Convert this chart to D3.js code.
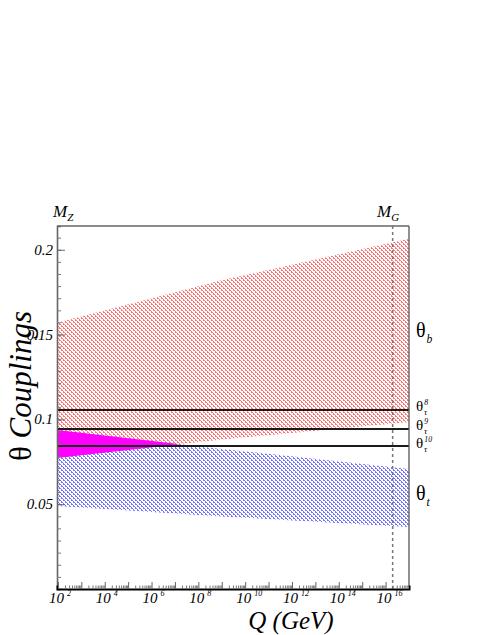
<!DOCTYPE html>
<html>
<head>
<meta charset="utf-8">
<script src="https://cdn.jsdelivr.net/npm/d3@7"></script>
<style>
  html, body { margin: 0; padding: 0; background: #fff; }
  svg { display: block; }
  text { font-family: "Liberation Serif", "DejaVu Serif", serif; }
</style>
</head>
<body>
<svg id="chart" width="491" height="635"></svg>
<script>
// ---------- data ----------
const scaleQ = [91.19, 1e9, 1e17];                 // Q (GeV) sample points
const thetaBUpper = [0.157, 0.182, 0.2065];         // theta_b band, upper edge
const thetaBLower = [0.0773, 0.0882, 0.0985];       // theta_b band, lower edge
const thetaTUpper = [0.0938, 0.0826, 0.0708];       // theta_t band, upper edge
const thetaTLower = [0.049, 0.0428, 0.0366];        // theta_t band, lower edge
const thetaTau = [0.1055, 0.0943, 0.0843];          // theta_tau^8, ^9, ^10
const thetaTauLabels = ["8", "9", "10"];
const yTickValues = [0.05, 0.1, 0.15, 0.2];
const yTickLabels = ["0.05", "0.1", "0.15", "0.2"];
const xLabelExponents = [2, 4, 6, 8, 10, 12, 14, 16];
const qMin = 91.19, qMax = 1e17, qMG = 2e16;
const yMin = 0, yMax = 0.214;

// ---------- layout ----------
const L = 57, R = 409, T = 226, B = 589;
const svg = d3.select("#chart");
const x = d3.scaleLog().domain([qMin, qMax]).range([L, R]);
const y = d3.scaleLinear().domain([yMin, yMax]).range([B, T]);

// hatch patterns
const defs = svg.append("defs");
function hatch(id, color) {
  const p = defs.append("pattern").attr("id", id)
    .attr("patternUnits", "userSpaceOnUse").attr("x", 0).attr("y", 0)
    .attr("width", 4).attr("height", 4);
  const pix = [[0,0],[1,1],[2,2],[3,3],[3,0],[1,2]];
  p.selectAll("rect").data(pix).join("rect")
    .attr("x", d => d[0]).attr("y", d => d[1]).attr("width", 1).attr("height", 1)
    .attr("fill", color).attr("shape-rendering", "crispEdges");
}
hatch("hatchRed", "#ff7474");
hatch("hatchBlue", "#7474ff");

const redData = scaleQ.map((q, i) => ({q, lo: thetaBLower[i], hi: thetaBUpper[i]}));
const blueData = scaleQ.map((q, i) => ({q, lo: thetaTLower[i], hi: thetaTUpper[i]}));
const area = d3.area().x(d => x(d.q)).y0(d => y(d.lo)).y1(d => y(d.hi));

defs.append("clipPath").attr("id", "clipRed").append("path").attr("d", area(redData));
defs.append("clipPath").attr("id", "clipFrame").append("rect")
  .attr("x", L).attr("y", T).attr("width", R - L).attr("height", B - T);

const plot = svg.append("g").attr("clip-path", "url(#clipFrame)");
plot.append("path").attr("d", area(redData)).attr("fill", "url(#hatchRed)");
plot.append("path").attr("d", area(blueData)).attr("fill", "url(#hatchBlue)");
// overlap of the two bands
plot.append("path").attr("d", area(blueData)).attr("fill", "#ff00ff")
  .attr("clip-path", "url(#clipRed)");

// theta_tau lines
plot.selectAll("line.tau").data(thetaTau).join("line").attr("class", "tau")
  .attr("x1", x(qMin)).attr("x2", x(qMax))
  .attr("y1", d => y(d)).attr("y2", d => y(d))
  .attr("stroke", "#1a1a1a").attr("stroke-width", 2);

// M_G dashed line
svg.append("line").attr("x1", x(qMG)).attr("x2", x(qMG)).attr("y1", T).attr("y2", B)
  .attr("stroke", "#777").attr("stroke-width", 1.5).attr("stroke-dasharray", "3,3");

// frame
svg.append("line").attr("x1", L).attr("x2", R).attr("y1", T).attr("y2", T).attr("stroke", "#666").attr("stroke-width", 1.3);
svg.append("line").attr("x1", R).attr("x2", R).attr("y1", T).attr("y2", B).attr("stroke", "#555").attr("stroke-width", 1.3);

// Y axis (ticks inside)
const yMinor = d3.range(yMin, yMax, 0.05 / 7);
const yAxis = d3.axisRight(y).tickValues(yMinor).tickSize(4).tickFormat("");
const gy = svg.append("g").attr("transform", `translate(${L},0)`).call(yAxis);
gy.select(".domain").attr("stroke", "#666").attr("stroke-width", 1.6);
gy.selectAll(".tick line").attr("stroke", "#777");
const yMajor = d3.axisRight(y).tickValues(yTickValues).tickSize(8).tickFormat("");
const gy2 = svg.append("g").attr("transform", `translate(${L},0)`).call(yMajor);
gy2.select(".domain").remove();
gy2.selectAll(".tick line").attr("stroke", "#666");
svg.selectAll("text.ylab").data(yTickValues).join("text").attr("class", "ylab")
  .attr("x", L - 4).attr("y", d => y(d) + 5)
  .attr("text-anchor", "end").attr("font-style", "italic").attr("font-size", 15)
  .text((d, i) => yTickLabels[i]);

// X axis (log, ticks inside)
const decades = d3.range(2, 17).map(e => Math.pow(10, e));
const xMinorVals = [];
d3.range(2, 17).forEach(e => { for (let k = 2; k <= 9; k++) xMinorVals.push(k * Math.pow(10, e)); });
const gx = svg.append("g").attr("transform", `translate(0,${B})`)
  .call(d3.axisTop(x).tickValues(xMinorVals).tickSize(3.5).tickFormat(""));
gx.select(".domain").attr("stroke", "#000").attr("stroke-width", 2);
gx.selectAll(".tick line").attr("stroke", "#777");
const gx2 = svg.append("g").attr("transform", `translate(0,${B})`)
  .call(d3.axisTop(x).tickValues(decades).tickSize(7).tickFormat(""));
gx2.select(".domain").remove();
gx2.selectAll(".tick line").attr("stroke", "#666");
const xl = svg.selectAll("g.xlab").data(xLabelExponents).join("g").attr("class", "xlab")
  .attr("transform", e => `translate(${x(Math.pow(10, e))},${B + 14})`);
xl.append("text").attr("x", -1.5).attr("text-anchor", "middle")
  .attr("font-style", "italic").attr("font-size", 15).text("10");
xl.append("text").attr("x", 9).attr("y", -7)
  .attr("font-style", "italic").attr("font-size", 8).text(e => e);

// Axis titles
svg.append("text").attr("x", 291).attr("y", 629).attr("text-anchor", "middle")
  .attr("font-style", "italic").attr("font-size", 25).text("Q (GeV)");
const yt = svg.append("text").attr("transform", "translate(31,386) rotate(-90)")
  .attr("text-anchor", "middle").attr("font-size", 31);
yt.append("tspan").text("θ ");
yt.append("tspan").attr("font-style", "italic").text("Couplings");

// M_Z / M_G labels
function mLabel(xp, sub) {
  const t = svg.append("text").attr("x", xp).attr("y", 217).attr("font-style", "italic").attr("font-size", 17);
  t.append("tspan").text("M");
  t.append("tspan").attr("font-size", 11).attr("dy", 4).text(sub);
}
mLabel(53, "Z");
mLabel(377, "G");

// theta labels at right
function thetaLabel(yp, size, sub, sup) {
  const g = svg.append("g").attr("transform", `translate(416,${yp})`);
  g.append("text").attr("font-size", size).text("θ");
  g.append("text").attr("x", size * 0.53).attr("y", size * 0.28)
    .attr("font-style", "italic").attr("font-size", size * 0.58).text(sub);
  if (sup) g.append("text").attr("x", size * 0.55).attr("y", -size * 0.4)
    .attr("font-style", "italic").attr("font-size", size * 0.52).text(sup);
}
thetaLabel(337, 20, "b");
thetaLabel(411, 15, "τ", thetaTauLabels[0]);
thetaLabel(430, 15, "τ", thetaTauLabels[1]);
thetaLabel(448, 15, "τ", thetaTauLabels[2]);
thetaLabel(500, 20, "t");
</script>
</body>
</html>
